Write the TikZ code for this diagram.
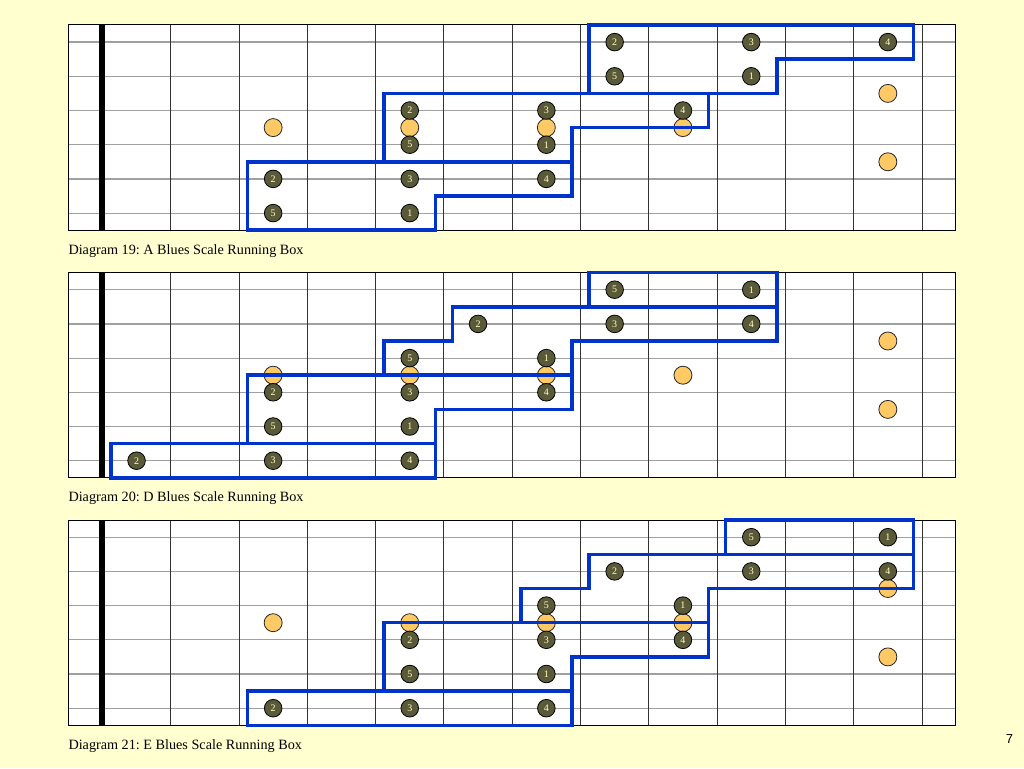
\documentclass[tikz,border=0pt]{standalone}
\usepackage{fontspec}
\setmainfont{Liberation Serif}
\newfontfamily\pagefont{Liberation Sans}
\frenchspacing
\definecolor{bg}{HTML}{FFFFD0}
\definecolor{dotfill}{HTML}{5A5A38}
\definecolor{dottext}{HTML}{FFFFCC}
\definecolor{inlay}{HTML}{FFC966}
\definecolor{boxblue}{HTML}{0033CC}
\definecolor{strgray}{HTML}{A0A0A0}
\tikzset{
  scaledot/.style={circle, draw=black, line width=0.8pt, fill=dotfill, minimum size=17.6pt, inner sep=0pt, text=dottext, font=\fontsize{10}{10}\selectfont},
  inlaydot/.style={circle, draw=black!85, line width=0.8pt, fill=inlay, minimum size=18pt, inner sep=0pt},
  runbox/.style={draw=boxblue, line width=3.5pt, line join=miter},
  stringline/.style={draw=strgray, line width=1.2pt},
  fretline/.style={draw=black!80, line width=0.9pt},
  framestyle/.style={draw=black, line width=1pt},
  caption/.style={anchor=base west, inner sep=0pt, font=\fontsize{14.2}{16}\selectfont},
}
\newcommand\board[2]{%
  \fill[white] (68,#2) rectangle (955.7,{#2+205.3});
  \foreach \s in {1,...,6} \draw[stringline] (68,{#2+17.1+(\s-1)*34.2}) -- (955.7,{#2+17.1+(\s-1)*34.2});
  \foreach \f in {1,...,12} \draw[fretline] ({102.4+\f*68.3},#2) -- ({102.4+\f*68.3},{#2+205.3});
  \fill[black] (99.4,#2) rectangle (105.2,{#2+205.3});
  \draw[framestyle] (68,#2) rectangle (955.7,{#2+205.3});
  \foreach \f in {3,5,7,9} \node[inlaydot] (#1-inlay\f) at ({102.4+(\f-0.5)*68.3},{#2+102.6}) {};
  \node[inlaydot] (#1-inlay12a) at (887.85,{#2+68.4}) {};
  \node[inlaydot] (#1-inlay12b) at (887.85,{#2+136.8}) {};
}
\newcommand\nd[5]{\node[scaledot] (#1-s#3f#4) at ({102.4+(#4-0.5)*68.3},{#2+17.1+(#3-1)*34.2}) {#5};}
\begin{document}
\begin{tikzpicture}[x=1pt,y=-1pt]
\fill[bg] (0,0) rectangle (1024,768);
\useasboundingbox (0,0) rectangle (1024,768);

% ---------- Diagram 19 ----------
\board{a}{25}
\nd{a}{25}{6}{3}{5} \nd{a}{25}{6}{5}{1}
\nd{a}{25}{5}{3}{2} \nd{a}{25}{5}{5}{3} \nd{a}{25}{5}{7}{4}
\nd{a}{25}{4}{5}{5} \nd{a}{25}{4}{7}{1}
\nd{a}{25}{3}{5}{2} \nd{a}{25}{3}{7}{3} \nd{a}{25}{3}{9}{4}
\nd{a}{25}{2}{8}{5} \nd{a}{25}{2}{10}{1}
\nd{a}{25}{1}{8}{2} \nd{a}{25}{1}{10}{3} \nd{a}{25}{1}{12}{4}
\draw[runbox] (247.55,161.8) -- (571.95,161.8) -- (571.95,196) -- (435.35,196) -- (435.35,230.2) -- (247.55,230.2) -- cycle;
\draw[runbox] (384.15,93.4) -- (708.55,93.4) -- (708.55,127.6) -- (571.95,127.6) -- (571.95,161.8) -- (384.15,161.8) -- cycle;
\draw[runbox] (589.05,25) -- (913.45,25) -- (913.45,59.2) -- (776.85,59.2) -- (776.85,93.4) -- (589.05,93.4) -- cycle;
\node[caption] (cap19) at (68.3,254) {Diagram 19: A Blues Scale Running Box};

% ---------- Diagram 20 ----------
\board{b}{272.6}
\nd{b}{272.6}{6}{1}{2} \nd{b}{272.6}{6}{3}{3} \nd{b}{272.6}{6}{5}{4}
\nd{b}{272.6}{5}{3}{5} \nd{b}{272.6}{5}{5}{1}
\nd{b}{272.6}{4}{3}{2} \nd{b}{272.6}{4}{5}{3} \nd{b}{272.6}{4}{7}{4}
\nd{b}{272.6}{3}{5}{5} \nd{b}{272.6}{3}{7}{1}
\nd{b}{272.6}{2}{6}{2} \nd{b}{272.6}{2}{8}{3} \nd{b}{272.6}{2}{10}{4}
\nd{b}{272.6}{1}{8}{5} \nd{b}{272.6}{1}{10}{1}
\draw[runbox] (110.95,443.6) -- (435.35,443.6) -- (435.35,477.8) -- (110.95,477.8) -- cycle;
\draw[runbox] (247.55,375.2) -- (571.95,375.2) -- (571.95,409.4) -- (435.35,409.4) -- (435.35,443.6) -- (247.55,443.6) -- cycle;
\draw[runbox] (384.15,341) -- (452.45,341) -- (452.45,306.8) -- (776.85,306.8) -- (776.85,341) -- (571.95,341) -- (571.95,375.2) -- (384.15,375.2) -- cycle;
\draw[runbox] (589.05,272.6) -- (776.85,272.6) -- (776.85,306.8) -- (589.05,306.8) -- cycle;
\node[caption] (cap20) at (68.3,501.5) {Diagram 20: D Blues Scale Running Box};

% ---------- Diagram 21 ----------
\board{c}{520.1}
\nd{c}{520.1}{6}{3}{2} \nd{c}{520.1}{6}{5}{3} \nd{c}{520.1}{6}{7}{4}
\nd{c}{520.1}{5}{5}{5} \nd{c}{520.1}{5}{7}{1}
\nd{c}{520.1}{4}{5}{2} \nd{c}{520.1}{4}{7}{3} \nd{c}{520.1}{4}{9}{4}
\nd{c}{520.1}{3}{7}{5} \nd{c}{520.1}{3}{9}{1}
\nd{c}{520.1}{2}{8}{2} \nd{c}{520.1}{2}{10}{3} \nd{c}{520.1}{2}{12}{4}
\nd{c}{520.1}{1}{10}{5} \nd{c}{520.1}{1}{12}{1}
\draw[runbox] (247.55,691.1) -- (571.95,691.1) -- (571.95,725.3) -- (247.55,725.3) -- cycle;
\draw[runbox] (384.15,622.7) -- (708.55,622.7) -- (708.55,656.9) -- (571.95,656.9) -- (571.95,691.1) -- (384.15,691.1) -- cycle;
\draw[runbox] (520.75,588.5) -- (589.05,588.5) -- (589.05,554.3) -- (913.45,554.3) -- (913.45,588.5) -- (708.55,588.5) -- (708.55,622.7) -- (520.75,622.7) -- cycle;
\draw[runbox] (725.65,520.1) -- (913.45,520.1) -- (913.45,554.3) -- (725.65,554.3) -- cycle;
\node[caption] (cap21) at (68.3,749) {Diagram 21: E Blues Scale Running Box};

\node[font=\pagefont\fontsize{13}{13}\selectfont, inner sep=0pt] (pagenum) at (1009.5,739.5) {7};
\end{tikzpicture}
\end{document}
